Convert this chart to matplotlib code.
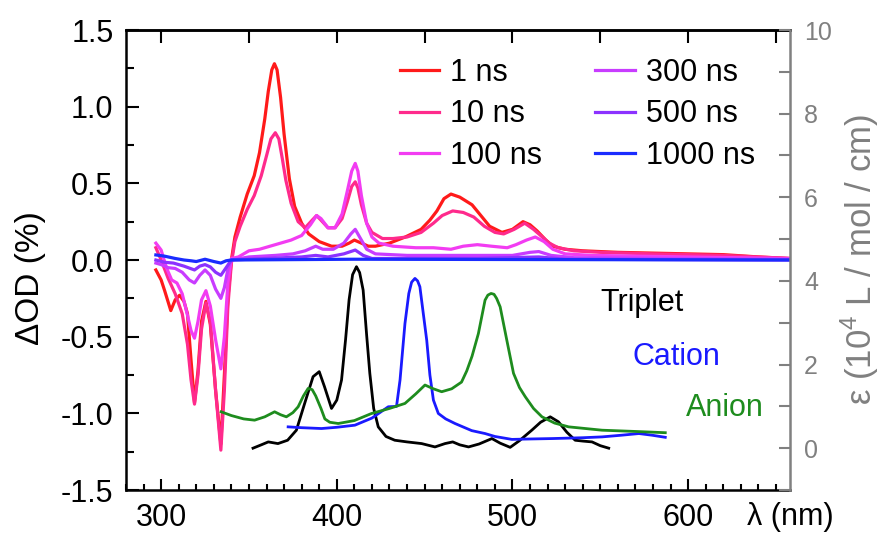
"""
Transient absorption spectra + reference absorption spectra (Triplet / Cation / Anion).
ΔOD on the left axis, ε on the right axis.
"""
import numpy as np
import matplotlib.pyplot as plt
from matplotlib.ticker import MultipleLocator

plt.rcParams['font.family'] = ['Liberation Sans', 'DejaVu Sans']
plt.rcParams['mathtext.fontset'] = 'custom'
plt.rcParams['mathtext.rm'] = 'Liberation Sans'

# ═════════════════════════════════════════════════════════════════
# data: transient spectra (ΔOD, %)
# ═════════════════════════════════════════════════════════════════
lam_1ns = [297, 300, 302, 305.5, 308, 310.5, 313, 315, 317, 319, 321, 323, 325.5, 328, 331, 334,
           336, 338, 340, 342, 345, 349, 353, 356, 359, 361, 363, 364.5, 366, 368, 370, 373, 376,
           380, 384, 390, 397, 403, 407, 410, 414, 418, 422, 430, 439, 448, 453, 457, 461, 465,
           470, 477, 482, 487, 494, 500, 506, 510, 514, 519, 523, 530, 540, 560, 580, 600, 620,
           640, 658]
od_1ns = [-0.065, -0.13, -0.20, -0.33, -0.26, -0.23, -0.27, -0.35, -0.65, -0.93, -0.72, -0.40,
          -0.27, -0.42, -0.85, -1.20, -0.75, -0.25, 0.0, 0.15, 0.28, 0.43, 0.55, 0.70, 0.92, 1.10,
          1.24, 1.28, 1.24, 1.06, 0.82, 0.53, 0.35, 0.24, 0.17, 0.12, 0.09, 0.09, 0.11, 0.13, 0.11,
          0.09, 0.09, 0.11, 0.15, 0.20, 0.26, 0.32, 0.40, 0.43, 0.41, 0.36, 0.29, 0.22, 0.18, 0.20,
          0.25, 0.23, 0.19, 0.13, 0.09, 0.07, 0.06, 0.05, 0.045, 0.04, 0.035, 0.02, 0.01]

lam_10ns = [297, 300, 304, 308, 312, 315, 317, 319, 321, 323, 325.5, 328, 331, 334, 336, 338, 340,
            342, 345, 349, 353, 357, 360, 362.5, 365, 367, 369, 371, 374, 378, 382, 386, 388.5, 391,
            395, 399, 403, 406, 408.5, 410.5, 412, 414, 417, 420, 426, 432, 440, 448, 455, 460, 466,
            472, 478, 484, 490, 495, 501, 507, 512, 516, 521, 526, 535, 550, 580, 620, 658]
od_10ns = [0.08, 0.0, -0.12, -0.22, -0.35, -0.55, -0.78, -0.94, -0.75, -0.45, -0.28, -0.40, -0.85,
           -1.24, -0.85, -0.30, -0.02, 0.12, 0.22, 0.33, 0.42, 0.55, 0.68, 0.79, 0.83, 0.79, 0.66,
           0.52, 0.37, 0.25, 0.21, 0.26, 0.29, 0.26, 0.21, 0.21, 0.27, 0.38, 0.48, 0.51, 0.47, 0.36,
           0.24, 0.18, 0.14, 0.14, 0.15, 0.18, 0.24, 0.29, 0.32, 0.31, 0.28, 0.22, 0.18, 0.17, 0.20,
           0.24, 0.20, 0.16, 0.11, 0.08, 0.06, 0.05, 0.04, 0.03, 0.01]

lam_100ns = [297, 300, 303, 306, 309, 312, 315, 317, 319, 321, 323, 325.5, 328, 331, 334, 336, 338,
             340, 344, 350, 356, 362, 368, 374, 380, 385, 388.5, 391, 395, 399, 403, 406, 408.5,
             410.5, 412, 414, 417, 420, 424, 432, 445, 455, 465, 472, 480, 488, 497, 502, 508, 513,
             518, 523, 530, 545, 600, 658]
od_100ns = [0.11, 0.065, -0.05, -0.13, -0.15, -0.22, -0.36, -0.46, -0.51, -0.40, -0.26, -0.20,
            -0.30, -0.52, -0.71, -0.50, -0.15, 0.01, 0.02, 0.06, 0.07, 0.09, 0.11, 0.13, 0.16, 0.23,
            0.29, 0.27, 0.21, 0.21, 0.30, 0.45, 0.58, 0.63, 0.58, 0.42, 0.24, 0.15, 0.11, 0.09,
            0.08, 0.08, 0.07, 0.09, 0.10, 0.09, 0.08, 0.10, 0.13, 0.15, 0.12, 0.07, 0.04, 0.03,
            0.02, 0.01]

lam_300ns = [297, 300, 304, 308, 312, 316, 319, 322, 325, 328, 331, 334, 336, 338, 340, 350, 365,
             375, 382, 388, 392, 398, 404, 408, 410.5, 413, 417, 422, 440, 480, 500, 510, 515, 522,
             535, 600, 658]
od_300ns = [-0.02, -0.03, -0.05, -0.055, -0.08, -0.13, -0.15, -0.10, -0.065, -0.10, -0.19, -0.25,
            -0.18, -0.06, 0.0, 0.02, 0.03, 0.04, 0.06, 0.09, 0.07, 0.07, 0.11, 0.17, 0.20, 0.15,
            0.07, 0.04, 0.03, 0.03, 0.03, 0.05, 0.055, 0.03, 0.015, 0.01, 0.005]

lam_500ns = [297, 302, 307, 313, 319, 322, 325, 328, 331, 334, 337, 340, 360, 380, 388, 395, 404,
             410.5, 415, 420, 480, 515, 530, 658]
od_500ns = [0.0, -0.015, -0.02, -0.04, -0.065, -0.04, -0.03, -0.045, -0.08, -0.10, -0.05, 0.0,
            0.01, 0.02, 0.03, 0.02, 0.04, 0.065, 0.03, 0.01, 0.01, 0.02, 0.005, 0.0]

lam_1000ns = [297, 302, 308, 313, 317, 320, 325, 330, 334, 337, 340, 410, 658]
od_1000ns = [0.033, 0.025, 0.01, 0.0, -0.005, -0.01, 0.005, -0.01, -0.02, -0.005, 0.0, 0.005, 0.0]

# ═════════════════════════════════════════════════════════════════
# data: reference spectra (ε, 10^4 L/mol/cm)
# ═════════════════════════════════════════════════════════════════
lam_triplet = [352.3, 357, 361, 366.5, 372, 377, 381.7, 386.5, 390, 393, 397, 400, 402.7, 405,
               407, 409, 411.2, 413, 415, 417, 418.8, 421, 423.6, 428, 433, 440, 448.3, 455.9,
               461.6, 466, 470, 475, 481, 488.3, 493, 498.7, 504, 511, 516, 521.5, 526.2, 531,
               535.7, 540, 545.3, 550, 554.8]
eps_triplet = [0.0, 0.08, 0.15, 0.11, 0.19, 0.43, 1.07, 1.71, 1.83, 1.47, 0.95, 1.15, 1.63, 2.6,
               3.55, 4.15, 4.34, 4.2, 3.78, 2.7, 1.79, 0.95, 0.51, 0.28, 0.19, 0.15, 0.11, 0.03,
               0.11, 0.15, 0.08, 0.03, 0.10, 0.23, 0.12, 0.02, 0.18, 0.43, 0.62, 0.75, 0.63, 0.38,
               0.19, 0.17, 0.15, 0.06, 0.0]

lam_cation = [372.3, 380, 391.3, 400, 410.3, 420, 429.3, 434, 436, 438.8, 441, 442.6, 444.5, 446,
              447.3, 449, 451.2, 453, 455, 457.8, 462, 467.3, 476.8, 484.4, 490, 499.7, 510, 522.5,
              540, 551, 562, 572, 579.5, 587]
eps_cation = [0.51, 0.49, 0.47, 0.50, 0.55, 0.72, 0.99, 1.0, 1.63, 2.98, 3.7, 3.97, 4.06, 4.0,
              3.86, 3.3, 2.58, 1.75, 1.15, 0.83, 0.70, 0.59, 0.42, 0.35, 0.28, 0.21, 0.22, 0.23,
              0.25, 0.27, 0.31, 0.35, 0.31, 0.26]

lam_anion = [334.2, 340, 347, 353.2, 359, 364.6, 368, 371.3, 375, 378, 381, 383.7, 386, 388, 391,
             393.2, 396, 400.8, 410, 419.8, 430, 438.8, 445, 450.2, 455, 459.7, 465.4, 471, 474,
             477, 480.6, 484.4, 486, 487.8, 489.5, 491, 493, 496.8, 500.6, 504, 507.3, 512, 516.8,
             524, 532, 551, 570, 587]
eps_anion = [0.87, 0.78, 0.70, 0.67, 0.75, 0.87, 0.80, 0.75, 0.85, 0.99, 1.25, 1.43, 1.40, 1.25,
             0.95, 0.70, 0.62, 0.59, 0.66, 0.83, 0.95, 1.07, 1.30, 1.51, 1.42, 1.35, 1.42, 1.58,
             1.85, 2.2, 2.74, 3.54, 3.66, 3.70, 3.68, 3.58, 3.38, 2.58, 1.79, 1.45, 1.23, 0.95,
             0.75, 0.60, 0.51, 0.43, 0.40, 0.37]

transients = [
    ('1 ns', lam_1ns, od_1ns, '#ff1a1a'),
    ('10 ns', lam_10ns, od_10ns, '#ff2a8c'),
    ('100 ns', lam_100ns, od_100ns, '#f23cf2'),
    ('300 ns', lam_300ns, od_300ns, '#c83cff'),
    ('500 ns', lam_500ns, od_500ns, '#8c32ff'),
    ('1000 ns', lam_1000ns, od_1000ns, '#1a2cff'),
]
references = [
    ('Triplet', lam_triplet, eps_triplet, 'black'),
    ('Cation', lam_cation, eps_cation, '#1a1aff'),
    ('Anion', lam_anion, eps_anion, '#1e8c1e'),
]

GRAY = '#808080'

# ═════════════════════════════════════════════════════════════════
# figure
# ═════════════════════════════════════════════════════════════════
fig = plt.figure(figsize=(8.83, 5.34), dpi=100)
ax = fig.add_axes([126 / 883, 1 - 490 / 534, 664 / 883, 460 / 534])

for label, lam, od, color in transients:
    ax.plot(lam, od, color=color, lw=2.3, label=label)

ax.set_xlim(280, 658)
ax.set_ylim(-1.5, 1.5)
ax.xaxis.set_major_locator(MultipleLocator(100))
ax.xaxis.set_minor_locator(MultipleLocator(10))
ax.yaxis.set_major_locator(MultipleLocator(0.5))
ax.yaxis.set_minor_locator(MultipleLocator(0.25))
ax.yaxis.set_major_formatter(lambda v, p: f'{v:.1f}')
ax.tick_params(which='both', direction='in', width=1.5, labelsize=22,
               top=False, right=False, colors='black')
ax.tick_params(axis='x', which='major', length=8, pad=9)
ax.tick_params(axis='x', which='minor', length=4)
ax.tick_params(axis='y', which='major', length=9, pad=9)
ax.tick_params(axis='y', which='minor', length=6)
for side in ('left', 'bottom', 'top'):
    ax.spines[side].set_linewidth(1.8)
ax.spines['right'].set_visible(False)

# top: ticks every 50 nm, no labels
top = ax.secondary_xaxis('top')
top.set_xticks(np.arange(300, 651, 50))
top.tick_params(direction='in', length=9, width=1.5, labeltop=False)
top.xaxis.set_minor_locator(MultipleLocator(1000))
top.spines['top'].set_linewidth(1.8)

ax.set_ylabel('ΔOD (%)', fontsize=24)
ax.yaxis.set_label_coords(-0.12, 0.46)
ax.set_xlabel('λ (nm)', fontsize=22)
ax.xaxis.set_label_coords(1.0, -0.025)

ax.legend(ncol=2, frameon=False, fontsize=22, loc='upper left',
          bbox_to_anchor=(0.412, 0.94), borderpad=0, borderaxespad=0,
          handlelength=1.3, handletextpad=0.35, columnspacing=1.75, labelspacing=0.38)

# right axis: reference spectra
ax2 = ax.twinx()
for label, lam, eps, color in references:
    ax2.plot(lam, eps, color=color, lw=2.0)
ax2.set_ylim(-1, 10)
ax2.yaxis.set_major_locator(MultipleLocator(2))
ax2.yaxis.set_minor_locator(MultipleLocator(1))
ax2.tick_params(which='both', direction='in', length=8, width=1.5, color=GRAY,
                labelcolor=GRAY, labelsize=18, pad=10)
for side in ('left', 'bottom', 'top'):
    ax2.spines[side].set_visible(False)
ax2.spines['right'].set_color(GRAY)
ax2.spines['right'].set_linewidth(1.8)
ax2.set_ylabel('ε (10$^4$ L / mol / cm)', color=GRAY, fontsize=25, labelpad=5)

ax.text(0.777, 0.4065, 'Triplet', transform=ax.transAxes, fontsize=22,
        color='black', ha='center', va='center')
ax.text(0.829, 0.29, 'Cation', transform=ax.transAxes, fontsize=22,
        color='#1a1aff', ha='center', va='center')
ax.text(0.902, 0.178, 'Anion', transform=ax.transAxes, fontsize=22,
        color='#1e8c1e', ha='center', va='center')

fig.savefig('out.png', dpi=100)
